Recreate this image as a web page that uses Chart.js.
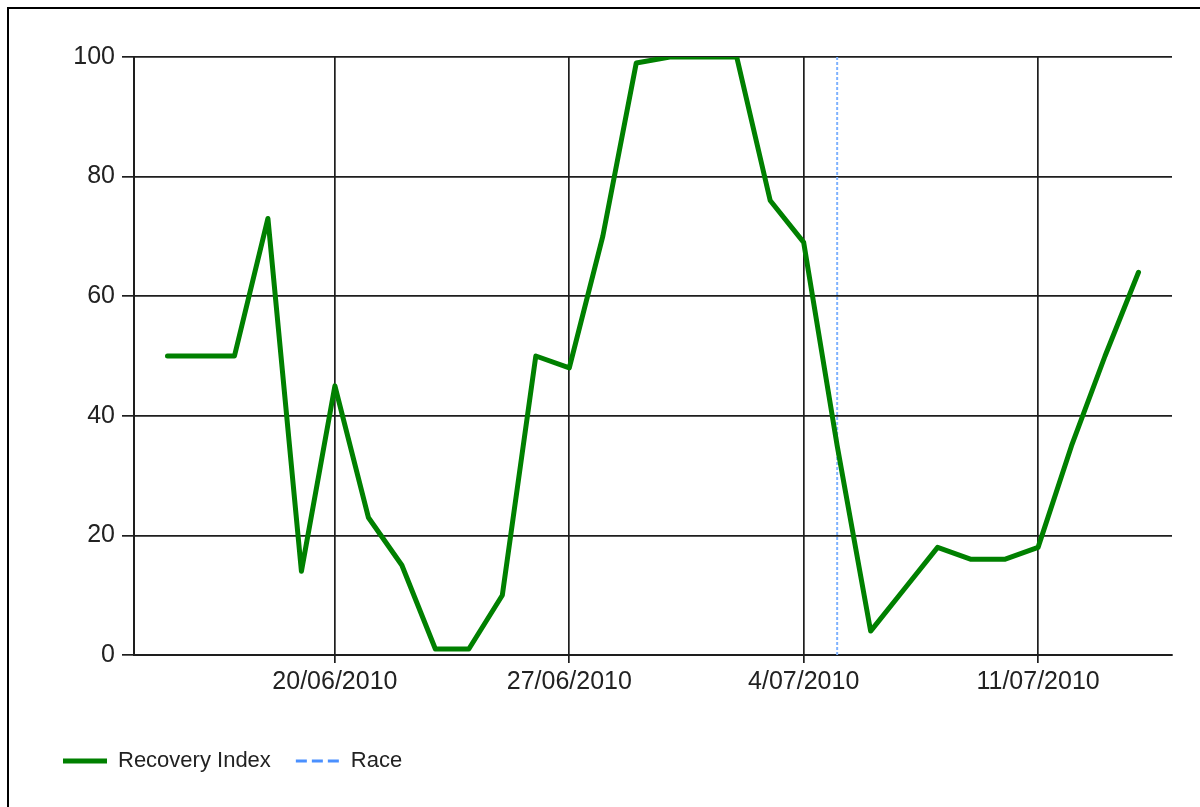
<!DOCTYPE html>
<html>
<head>
<meta charset="utf-8">
<script src="https://cdn.jsdelivr.net/npm/chart.js@4.4.1/dist/chart.umd.min.js"></script>
<style>
  html, body { margin: 0; padding: 0; background: #fff; }
  #wrap { position: relative; width: 1200px; height: 807px; }
</style>
</head>
<body>
<div id="wrap"><canvas id="c" width="1200" height="807"></canvas></div>
<script>
// ---- data ----
const dates = [
  '15/06/2010','16/06/2010','17/06/2010','18/06/2010','19/06/2010','20/06/2010',
  '21/06/2010','22/06/2010','23/06/2010','24/06/2010','25/06/2010','26/06/2010',
  '27/06/2010','28/06/2010','29/06/2010','30/06/2010','1/07/2010','2/07/2010',
  '3/07/2010','4/07/2010','5/07/2010','6/07/2010','7/07/2010','8/07/2010',
  '9/07/2010','10/07/2010','11/07/2010','12/07/2010','13/07/2010','14/07/2010'
];
const recoveryIndex = [
  50, 50, 50, 73, 14, 45,
  23, 15, 1, 1, 10, 50,
  48, 70, 99, 100, 100, 100,
  76, 69, 35, 4, 11, 18,
  16, 16, 18, 35, 50, 64
];
const raceDate = '5/07/2010';
const raceRange = [0, 100];
const xTickLabels = ['20/06/2010', '27/06/2010', '4/07/2010', '11/07/2010'];
const axisStart = '14/06/2010';
const axisEnd = '15/07/2010';
const yTicks = [0, 20, 40, 60, 80, 100];

function dayNum(s) {
  const [d, m, y] = s.split('/').map(Number);
  return Date.UTC(y, m - 1, d) / 86400000;
}

const recoveryPoints = dates.map((d, i) => ({ x: dayNum(d), y: recoveryIndex[i] }));
const racePoints = raceRange.map(v => ({ x: dayNum(raceDate), y: v }));
const labelByDay = {};
xTickLabels.forEach(l => { labelByDay[dayNum(l)] = l; });

const GRID = '#1e1e1e';
const TEXT = '#222222';
const FONT = 'Liberation Sans, Arial, sans-serif';

const framePlugin = {
  id: 'frame',
  beforeDraw(chart) {
    const ctx = chart.ctx;
    ctx.save();
    ctx.fillStyle = '#fff';
    ctx.fillRect(0, 0, chart.width, chart.height);
    ctx.fillStyle = '#000';
    ctx.fillRect(7, 7, chart.width - 7, 2);
    ctx.fillRect(7, 7, 2, chart.height - 7);
    ctx.restore();
  }
};

new Chart(document.getElementById('c'), {
  type: 'line',
  data: {
    datasets: [
      {
        label: 'Recovery Index',
        data: recoveryPoints,
        borderColor: '#008000',
        backgroundColor: '#008000',
        borderWidth: 5,
        pointRadius: 0,
        tension: 0,
        borderJoinStyle: 'round',
        borderCapStyle: 'round',
        fill: false
      },
      {
        label: 'Race',
        data: racePoints,
        borderColor: '#7fb2ff',
        backgroundColor: '#7fb2ff',
        borderWidth: 2,
        borderDash: [3, 2],
        pointRadius: 0,
        fill: false
      }
    ]
  },
  options: {
    responsive: false,
    animation: false,
    devicePixelRatio: 1,
    layout: { padding: { left: 38, right: 28, top: 57, bottom: 25 } },
    plugins: {
      tooltip: { enabled: false },
      title: { display: false },
      legend: {
        display: true,
        position: 'bottom',
        align: 'start',
        labels: {
          usePointStyle: true,
          pointStyle: 'line',
          pointStyleWidth: 44,
          boxWidth: 44,
          boxHeight: 22,
          padding: 25,
          color: TEXT,
          font: { family: FONT, size: 22 },
          generateLabels(chart) {
            const items = Chart.defaults.plugins.legend.labels.generateLabels(chart);
            items.forEach(it => {
              it.pointStyle = 'line';
              if (it.datasetIndex === 0) { it.lineWidth = 5; it.strokeStyle = '#008000'; }
              else { it.lineWidth = 3; it.strokeStyle = '#4a90ff'; it.lineDash = [11, 5]; }
            });
            return items;
          }
        }
      }
    },
    scales: {
      x: {
        type: 'linear',
        min: dayNum(axisStart),
        max: dayNum(axisEnd),
        afterBuildTicks(scale) {
          scale.ticks = xTickLabels.map(l => ({ value: dayNum(l) }));
        },
        afterFit(scale) { scale.height = 70; },
        ticks: {
          autoSkip: false,
          maxRotation: 0,
          color: TEXT,
          padding: 4,
          font: { family: FONT, size: 25 },
          callback: v => labelByDay[v] || ''
        },
        grid: { color: GRID, lineWidth: 1.7, tickLength: 8, drawTicks: true },
        border: { display: true, color: GRID, width: 2 }
      },
      y: {
        min: 0,
        max: 100,
        afterBuildTicks(scale) {
          scale.ticks = yTicks.map(v => ({ value: v }));
        },
        afterFit(scale) { scale.width = 96; },
        ticks: {
          color: TEXT,
          padding: 7,
          font: { family: FONT, size: 25 }
        },
        grid: { color: GRID, lineWidth: 1.7, tickLength: 12, drawTicks: true },
        border: { display: true, color: GRID, width: 2 }
      }
    }
  },
  plugins: [framePlugin]
});
</script>
</body>
</html>
